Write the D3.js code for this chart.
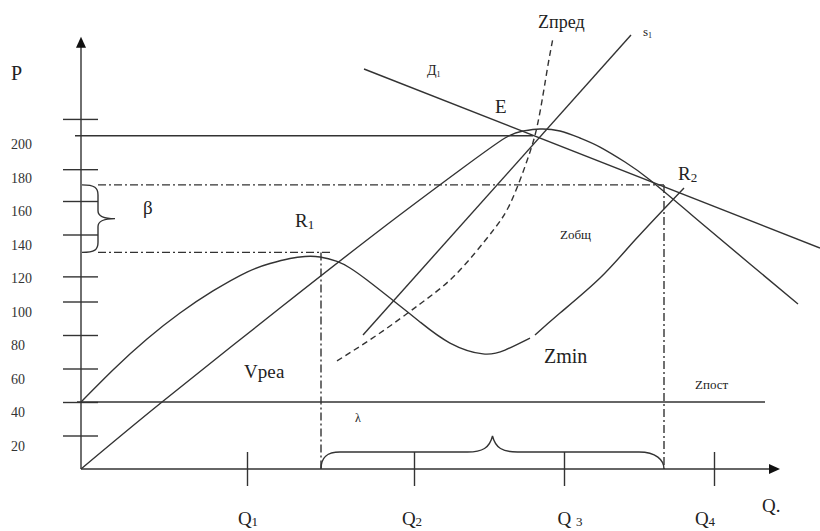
<!DOCTYPE html>
<html>
<head>
<meta charset="utf-8">
<script src="https://cdn.jsdelivr.net/npm/d3@7"></script>
<style>
  body { margin: 0; background: #fff; }
</style>
</head>
<body>
<div id="chart"></div>
<script>
// values (Q units, P units)
const pTicks = [20, 40, 60, 80, 100, 115, 140, 160, 179, 209];
const pLabels = [20, 40, 60, 80, 100, 120, 140, 160, 180, 200];
const qTicks = [16.6, 33.3, 48.3, 63.3];
const qNames = ["1", "2", "3", "4"];
const qLabelPos = [16.7, 33.1, 48.9, 62.4];

// V real. (revenue), starts at origin
const revenue = [
  [0, 0], [8.1, 40], [19.9, 96.1], [29.9, 142.7], [37.9, 178.5], [42.4, 197.6],
  [44.2, 201.8], [45.9, 203], [47.9, 201.8], [49.9, 197.6], [51.9, 192.2],
  [54.4, 183.3], [56.9, 172.5], [61.9, 147.5], [66.9, 122.4], [71.7, 98.5]
];
// Z total, two pieces (small gap after Zmin)
const totalCostA = [
  [0, 40], [3.3, 59.7], [6.6, 77.6], [9.9, 93.1], [13.2, 106.3], [16.6, 117.6],
  [18.9, 122.7], [20.9, 125.7], [22.4, 126.9], [23.9, 126.6], [25.6, 123.9],
  [26.9, 120], [28.6, 112.8], [31.4, 99.7], [33.9, 87.8], [36.9, 75.2],
  [40.2, 68.7], [42.4, 71], [44.9, 78.2]
];
const totalCostB = [
  [45.4, 80], [47.9, 93.1], [51.9, 114], [55.4, 136.7], [60.3, 167.8]
];
const zPred = [
  [25.6, 64.5], [29.9, 81.2], [33.9, 98.5], [36.9, 112.8], [39.4, 129],
  [41.4, 143.9], [42.7, 155.8], [43.9, 172.5], [44.9, 189.3], [45.6, 204.2],
  [46.2, 223.3], [46.7, 241.2], [47.2, 257.3]
];
const supply = [[28.2, 80], [55, 259.1]];
const demand = [[28.3, 238.8], [73.9, 131.9]];
const fixedCost = 40;
const fixedRange = [-0.4, 68.4];
const priceTop = 199;
const priceTopRange = [-0.6, 45.2];
const r1 = [24, 129.3];
const r2 = [58.3, 169.6];

const w = 820;
const h = 531;
const ink = "#333";
const serif = "'Liberation Serif', 'Times New Roman', 'DejaVu Serif', serif";

const svg = d3.select("#chart")
              .append("svg")
              .attr("width", w)
              .attr("height", h)
              .attr("font-family", serif)
              .style("font-family", serif);

const x = d3.scaleLinear().domain([0, 70]).range([81, 781]);
const y = d3.scaleLinear().domain([0, 200]).range([469, 134]);

const line = d3.line()
               .x(d => x(d[0]))
               .y(d => y(d[1]))
               .curve(d3.curveNatural);

function seg(x1, y1, x2, y2, dash) {
  svg.append("line")
     .attr("x1", x1).attr("y1", y1)
     .attr("x2", x2).attr("y2", y2)
     .attr("stroke", ink)
     .attr("stroke-width", 1.4)
     .attr("stroke-dasharray", dash || null);
}

// axes lines + arrows
const yTop = 258, xEnd = 69.9;
seg(x(0), y(0), x(0), y(yTop) + 9);
seg(x(0), y(0), x(xEnd) - 9, y(0));
svg.append("path")
   .attr("d", `M${x(0)},${y(yTop)} l-5,11 l10,0 Z`)
   .attr("fill", "#111");
svg.append("path")
   .attr("d", `M${x(xEnd)},${y(0)} l-11,-5 l0,10 Z`)
   .attr("fill", "#111");

// tick marks on both sides
const yAxisL = d3.axisLeft(y).tickValues(pTicks).tickSize(18).tickFormat("");
const yAxisR = d3.axisRight(y).tickValues(pTicks).tickSize(17).tickFormat("");
const xAxisB = d3.axisBottom(x).tickValues(qTicks).tickSize(17).tickFormat("");
const xAxisT = d3.axisTop(x).tickValues(qTicks).tickSize(17).tickFormat("");
[yAxisL, yAxisR].forEach(a => {
  svg.append("g")
     .attr("transform", `translate(${x(0)},0)`)
     .call(a)
     .call(g => g.select(".domain").remove())
     .call(g => g.selectAll("line").attr("stroke", ink).attr("stroke-width", 1.4));
});
[xAxisB, xAxisT].forEach(a => {
  svg.append("g")
     .attr("transform", `translate(0,${y(0)})`)
     .call(a)
     .call(g => g.select(".domain").remove())
     .call(g => g.selectAll("line").attr("stroke", ink).attr("stroke-width", 1.4));
});

// P labels (sit a little below their ticks in the original)
svg.selectAll("text.plabel")
   .data(pLabels)
   .enter()
   .append("text")
   .attr("class", "plabel")
   .attr("x", 11)
   .attr("y", d => y(d) + 15)
   .style("font-size", "14px")
   .style("fill", "#333")
   .text(d => d);

// Q labels
qLabelPos.forEach((q, i) => {
  const t = svg.append("text")
               .attr("x", x(q))
               .attr("y", 525)
               .attr("text-anchor", "middle")
               .style("font-size", "19px")
               .style("fill", "#222");
  t.append("tspan").text(i === 2 ? "Q " : "Q");
  t.append("tspan").text(qNames[i]).style("font-size", "13px").attr("dy", 1);
});
svg.append("text").attr("x", 762).attr("y", 512).style("font-size", "19px").style("fill", "#222").text("Q.");
svg.append("text").attr("x", 11).attr("y", 80).style("font-size", "20px").style("fill", "#222").text("P");

// horizontal reference lines
seg(x(priceTopRange[0]), y(priceTop), x(priceTopRange[1]), y(priceTop));
seg(x(fixedRange[0]), y(fixedCost), x(fixedRange[1]), y(fixedCost));

// dash-dot guides for R1 and R2
const dd = "8,3,2,3";
seg(98, y(r1[1]), x(r1[0]) + 11, y(r1[1]), dd);
seg(x(r1[0]), y(r1[1]), x(r1[0]), y(0), dd);
seg(98, y(r2[1]), x(r2[0]), y(r2[1]), dd);
seg(x(r2[0]), y(r2[1]), x(r2[0]), y(0), dd);

// curves
const curves = [
  [revenue, null], [totalCostA, null], [totalCostB, null],
  [zPred, "6,4"], [supply, null], [demand, null]
];
curves.forEach(([d, dash]) => {
  svg.append("path")
     .datum(d)
     .attr("d", line)
     .attr("fill", "none")
     .attr("stroke", ink)
     .attr("stroke-width", 1.4)
     .attr("stroke-dasharray", dash);
});

// brace beta on the P axis
const bt = y(r2[1]), bb = y(r1[1]), bm = (bt + bb) / 2, bx = x(0);
svg.append("path")
   .attr("d", `M${bx + 1},${bt} C${bx + 14},${bt} ${bx + 17},${bt + 3} ${bx + 17},${bt + 10}
               L${bx + 17},${bm - 8} C${bx + 17},${bm - 2} ${bx + 23},${bm} ${bx + 34},${bm}
               C${bx + 23},${bm} ${bx + 17},${bm + 2} ${bx + 17},${bm + 8}
               L${bx + 17},${bb - 10} C${bx + 17},${bb - 3} ${bx + 14},${bb} ${bx + 1},${bb}`)
   .attr("fill", "none")
   .attr("stroke", ink)
   .attr("stroke-width", 1.4);

// brace lambda on the Q axis
const xl = x(r1[0]), xr = x(r2[0]), xm = (xl + xr) / 2, y0 = y(0);
svg.append("path")
   .attr("d", `M${xl},${y0} C${xl},${y0 - 11} ${xl + 5},${y0 - 17} ${xl + 19},${y0 - 17}
               L${xm - 25},${y0 - 17} C${xm - 10},${y0 - 17} ${xm - 3},${y0 - 21} ${xm},${y0 - 33}
               C${xm + 3},${y0 - 21} ${xm + 10},${y0 - 17} ${xm + 25},${y0 - 17}
               L${xr - 25},${y0 - 17} C${xr - 8},${y0 - 17} ${xr},${y0 - 9} ${xr},${y0}`)
   .attr("fill", "none")
   .attr("stroke", ink)
   .attr("stroke-width", 1.4);

// annotations
function label(txt, sub, q, p, size, subSize) {
  const t = svg.append("text")
               .attr("x", x(q))
               .attr("y", y(p))
               .style("font-size", size + "px")
               .style("fill", "#222");
  t.append("tspan").text(txt);
  if (sub) t.append("tspan").text(sub).style("font-size", subSize + "px").attr("dy", 2);
}
label("Zпред", null, 45.7, 263.3, 18);
label("s", "1", 56.2, 258.5, 13, 8);
label("Д", "1", 34.6, 235.2, 14, 8);
label("E", null, 41.4, 212.5, 19);
label("R", "1", 21.4, 144.2, 19, 13);
label("R", "2", 59.7, 172.5, 19, 13);
label("Zобщ", null, 47.9, 137.3, 13);
label("Vреа", null, 16.3, 54.3, 19);
label("Zmin", null, 46.3, 63, 20);
label("Zпост", null, 61.4, 47.8, 13);
label("β", null, 6.2, 152.2, 19);
label("λ", null, 27.4, 28.3, 12);
</script>
</body>
</html>
